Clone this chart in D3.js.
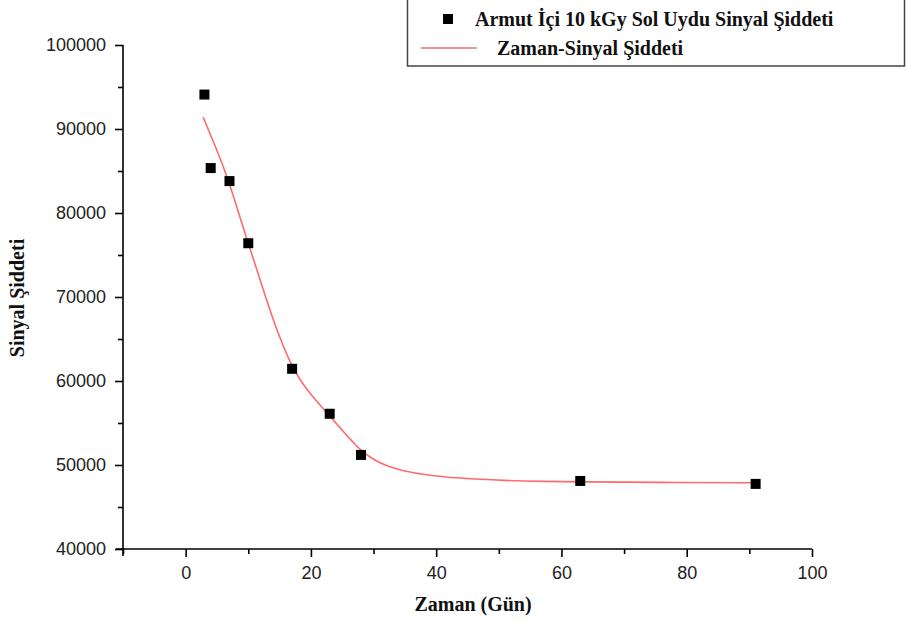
<!DOCTYPE html>
<html>
<head>
<meta charset="utf-8">
<script src="https://cdn.jsdelivr.net/npm/d3@7"></script>
<style>
  html, body { margin: 0; padding: 0; background: #fff; }
  svg { display: block; }
</style>
</head>
<body>
<svg id="chart" width="906" height="622"></svg>
<script>
// Measured signal intensity by storage day
const days = [3, 4, 7, 10, 17, 23, 28, 63, 91];
const signal = [94100, 85350, 83800, 76400, 61450, 56100, 51200, 48100, 47750];

// Fitted decay curve, sampled along its length
const fitDays = [2.8, 5, 7, 9, 10, 12, 14, 15.5, 17, 18.5, 20, 23, 25.5, 28, 30, 32, 35, 38, 43.5, 51, 57, 63, 75, 91];
const fitSignal = [91400, 87500, 83600, 78700, 76400, 71800, 67200, 64300, 61700, 59850, 58350, 55850, 53700, 51650, 50650, 49900, 49250, 48850, 48420, 48130, 48050, 48000, 47930, 47880];

const xTicks = [0, 20, 40, 60, 80, 100];
const xMinorTicks = [-10, 10, 30, 50, 70, 90];
const yTicks = [40000, 50000, 60000, 70000, 80000, 90000, 100000];
const yMinorTicks = [45000, 55000, 65000, 75000, 85000, 95000];

const legendLabels = ["Armut İçi 10 kGy Sol Uydu Sinyal Şiddeti", "Zaman-Sinyal Şiddeti"];
const xTitle = "Zaman (Gün)";
const yTitle = "Sinyal Şiddeti";

const svg = d3.select("#chart");
const serif = "'Liberation Serif', 'Times New Roman', serif";
const sans = "'Liberation Sans', Arial, sans-serif";

const x = d3.scaleLinear().domain([-10, 100]).range([123, 812]);
const y = d3.scaleLinear().domain([40000, 100000]).range([549, 45]);

// Axes: labelled major ticks plus unlabelled minor ticks
svg.append("g").attr("transform", `translate(0,${y(40000)})`)
  .call(d3.axisBottom(x).tickValues(xTicks).tickFormat(d3.format("d")).tickSize(8).tickPadding(9));
svg.append("g").attr("transform", `translate(0,${y(40000)})`)
  .call(d3.axisBottom(x).tickValues(xMinorTicks).tickFormat("").tickSize(5));

svg.append("g").attr("transform", `translate(${x(-10)},0)`)
  .call(d3.axisLeft(y).tickValues(yTicks).tickFormat(d3.format("d")).tickSize(8).tickPadding(9));
svg.append("g").attr("transform", `translate(${x(-10)},0)`)
  .call(d3.axisLeft(y).tickValues(yMinorTicks).tickFormat("").tickSize(5));

svg.selectAll(".domain").remove();
// Axis lines overshooting the corner slightly
svg.append("line").attr("x1", x(-10) - 7).attr("x2", x(100)).attr("y1", y(40000)).attr("y2", y(40000))
  .attr("stroke", "#000").attr("stroke-width", 1.6);
svg.append("line").attr("x1", x(-10)).attr("x2", x(-10)).attr("y1", y(100000)).attr("y2", y(40000) + 7)
  .attr("stroke", "#000").attr("stroke-width", 1.6);

svg.selectAll(".tick line").attr("stroke", "#000").attr("stroke-width", 1.6);
svg.selectAll(".tick text").attr("font-family", sans).attr("font-size", 18).attr("fill", "#222");

// Axis titles
svg.append("text").attr("x", 473).attr("y", 611).attr("text-anchor", "middle")
  .attr("font-family", serif).attr("font-weight", "bold").attr("font-size", 20).attr("fill", "#111")
  .text(xTitle);
svg.append("text").attr("transform", "translate(24,298) rotate(-90)").attr("text-anchor", "middle")
  .attr("font-family", serif).attr("font-weight", "bold").attr("font-size", 20).attr("fill", "#111")
  .text(yTitle);

// Fitted curve
const line = d3.line().x((d, i) => x(fitDays[i])).y(d => y(d)).curve(d3.curveBasis);
svg.append("path").datum(fitSignal).attr("d", line)
  .attr("fill", "none").attr("stroke", "#ff6b6b").attr("stroke-width", 1.6);

// Data markers
const ms = 10;
svg.append("g").selectAll("rect").data(signal).join("rect")
  .attr("x", (d, i) => x(days[i]) - ms / 2)
  .attr("y", d => y(d) - ms / 2)
  .attr("width", ms).attr("height", ms)
  .attr("fill", "#000");

// Legend
const lg = svg.append("g");
lg.append("rect").attr("x", 407.5).attr("y", -2).attr("width", 497).attr("height", 68)
  .attr("fill", "#fff").attr("stroke", "#444").attr("stroke-width", 1.5);
lg.append("rect").attr("x", 443).attr("y", 14).attr("width", ms).attr("height", ms).attr("fill", "#000");
lg.append("text").attr("x", 475).attr("y", 26)
  .attr("font-family", serif).attr("font-weight", "bold").attr("font-size", 20).attr("fill", "#111")
  .text(legendLabels[0]);
lg.append("line").attr("x1", 421).attr("x2", 477).attr("y1", 48).attr("y2", 48)
  .attr("stroke", "#ff6b6b").attr("stroke-width", 1.6);
lg.append("text").attr("x", 497).attr("y", 55)
  .attr("font-family", serif).attr("font-weight", "bold").attr("font-size", 20).attr("fill", "#111")
  .text(legendLabels[1]);
</script>
</body>
</html>
